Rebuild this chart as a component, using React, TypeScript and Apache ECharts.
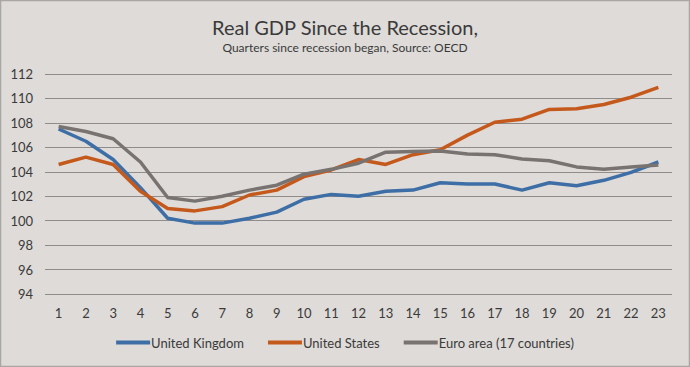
import React, { useEffect, useRef } from "react";
import * as echarts from "echarts";

const quarters = ["1","2","3","4","5","6","7","8","9","10","11","12","13","14","15","16","17","18","19","20","21","22","23"];
const ukValues = [107.5, 106.5, 105.0, 102.7, 100.2, 99.8, 99.8, 100.2, 100.7, 101.75, 102.15, 102.0, 102.4, 102.5, 103.1, 103.0, 103.0, 102.5, 103.1, 102.85, 103.3, 103.95, 104.8];
const usValues = [104.6, 105.2, 104.6, 102.4, 101.0, 100.8, 101.15, 102.1, 102.5, 103.6, 104.15, 105.0, 104.6, 105.4, 105.8, 107.0, 108.05, 108.3, 109.1, 109.15, 109.5, 110.1, 110.9];
const euroValues = [107.7, 107.3, 106.7, 104.8, 101.9, 101.6, 102.0, 102.5, 102.9, 103.8, 104.2, 104.7, 105.6, 105.65, 105.7, 105.45, 105.4, 105.05, 104.9, 104.4, 104.2, 104.4, 104.55];
const seriesNames = ["United Kingdom", "United States", "Euro area (17 countries)"];
const seriesColors = ["#3e6ea6", "#c5591c", "#787371"];

export default function App() {
  const ref = useRef<HTMLDivElement>(null);
  useEffect(() => {
    if (!ref.current) return;
    const chart = echarts.init(ref.current, null, { renderer: "svg" });
    const font = "Lato, 'Liberation Sans', sans-serif";
    const values = [ukValues, usValues, euroValues];
    chart.setOption({
      animation: false,
      backgroundColor: "#dedbd8",
      title: {
        text: "Real GDP Since the Recession,",
        subtext: "Quarters since recession began, Source: OECD",
        left: "center",
        top: 12,
        itemGap: 4,
        textStyle: { fontFamily: font, fontSize: 20, fontWeight: "normal", color: "#3a3a3a" },
        subtextStyle: { fontFamily: font, fontSize: 12, color: "#3a3a3a" },
      },
      legend: {
        bottom: 13,
        left: "center",
        itemWidth: 34,
        itemHeight: 4,
        itemGap: 24,
        icon: "rect",
        textStyle: { fontFamily: font, fontSize: 13, color: "#3a3a3a", padding: [0, 0, 0, -4] },
        data: seriesNames,
      },
      grid: { left: 45, right: 18, top: 74, bottom: 73 },
      xAxis: {
        type: "category",
        data: quarters,
        boundaryGap: true,
        axisLine: { show: false },
        axisTick: { show: false },
        axisLabel: { fontFamily: font, fontSize: 13, color: "#3a3a3a", margin: 12 },
      },
      yAxis: {
        type: "value",
        min: 94,
        max: 112,
        interval: 2,
        axisLine: { show: false },
        axisTick: { show: false },
        axisLabel: { fontFamily: font, fontSize: 13, color: "#3a3a3a", margin: 12 },
        splitLine: { lineStyle: { color: "#8f8c8a", width: 1 } },
      },
      series: seriesNames.map((name, i) => ({
        name,
        type: "line",
        data: values[i],
        symbol: "none",
        color: seriesColors[i],
        lineStyle: { width: 3.5, color: seriesColors[i] },
      })),
      graphic: [
        {
          type: "rect",
          shape: { x: 0.5, y: 0.5, width: 689, height: 366 },
          style: { fill: "none", stroke: "#a9a6a4", lineWidth: 1.5 },
          silent: true,
        },
      ],
    });
    return () => chart.dispose();
  }, []);
  return (
    <div
      ref={ref}
      style={{ position: "absolute", left: 0, top: 0, width: 690, height: 367 }}
    />
  );
}
